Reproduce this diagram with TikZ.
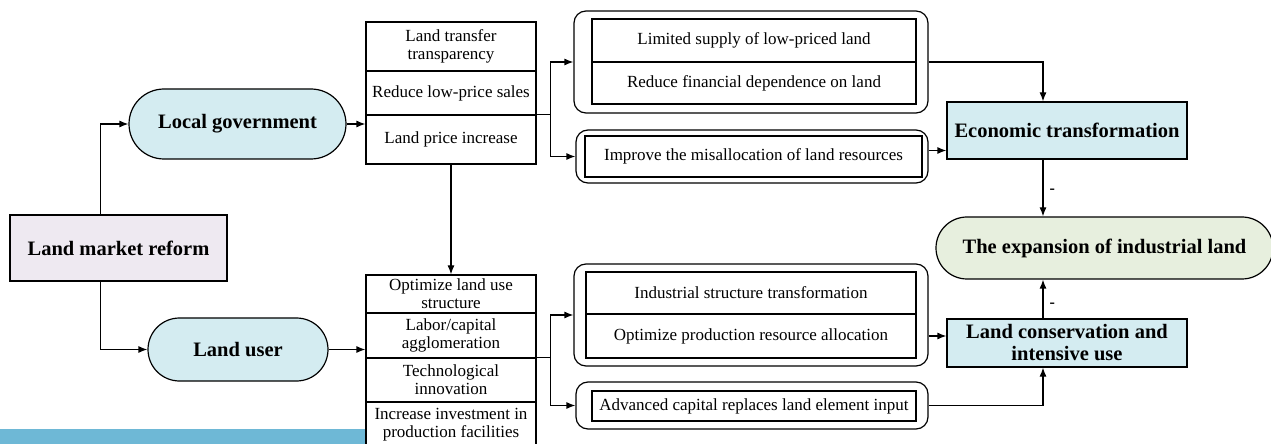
\documentclass[tikz,border=0pt]{standalone}
\usepackage{fontspec}
\setmainfont{Liberation Serif}
\usetikzlibrary{arrows.meta}

\definecolor{actorblue}{RGB}{212,236,241}
\definecolor{reformlilac}{RGB}{238,233,241}
\definecolor{targetgreen}{RGB}{231,239,222}
\definecolor{bandblue}{RGB}{110,184,214}

\begin{document}
\begin{tikzpicture}[x=0.5pt, y=-0.5pt, line width=0.6pt,
    >={Latex[length=4.5pt,width=3.5pt]},
    boldtext/.style={font=\fontsize{10.25}{11}\selectfont\bfseries},
    cell/.style={draw, minimum width=85pt, inner sep=0pt, align=center,
      font=\fontsize{8.5}{9}\selectfont},
    inner/.style={draw, inner sep=0pt, align=center, font=\fontsize{8.5}{9}\selectfont},
    group/.style={draw, rounded corners=6pt, inner sep=0pt},
    outcome/.style={draw, fill=actorblue, inner sep=0pt, align=center, boldtext},
    sign/.style={right, inner sep=3pt, font=\fontsize{8}{8}\selectfont\bfseries}]
  \useasboundingbox (0,0) rectangle (1271,444);
  \fill[bandblue] (0,429) rectangle (365,444);

  % Actors
  \node[draw, fill=reformlilac, minimum width=108.5pt, minimum height=33pt, boldtext]
    (lmr) at (118.5,248) {Land market reform};
  \node[draw, fill=actorblue, rounded corners=17.5pt, minimum width=108.5pt,
    minimum height=35pt, boldtext] (gov) at (237.5,124) {Local government};
  \node[draw, fill=actorblue, rounded corners=15.75pt, minimum width=90pt,
    minimum height=31.5pt, boldtext] (user) at (238,349.5) {Land user};

  % Channels
  \node[cell, minimum height=24.5pt] (g1) at (451,46.5) {Land transfer\\transparency};
  \node[cell, minimum height=22pt] (g2) at (451,93) {Reduce low-price sales};
  \node[cell, minimum height=24.5pt] (g3) at (451,139.5) {Land price increase};
  \node[cell, minimum height=19pt] (u1) at (451,294) {Optimize land use\\structure};
  \node[cell, minimum height=22.5pt] (u2) at (451,335.5) {Labor/capital\\agglomeration};
  \node[cell, minimum height=22pt] (u3) at (451,380) {Technological\\innovation};
  \node[cell, minimum height=22.5pt] (u4) at (451,424.5) {Increase investment in\\production facilities};

  % Mechanisms
  \node[group, minimum width=177pt, minimum height=51pt] (m1) at (751,62) {};
  \node[inner, minimum width=162pt, minimum height=21.5pt] (m1a) at (754,40.5) {Limited supply of low-priced land};
  \node[inner, minimum width=162pt, minimum height=21pt] (m1b) at (754,83) {Reduce financial dependence on land};
  \node[group, minimum width=176pt, minimum height=26.5pt] (m2) at (752,156.5) {};
  \node[inner, minimum width=168.5pt, minimum height=20.5pt] (m2a) at (753.5,156.5) {Improve the misallocation of land resources};
  \node[group, minimum width=177pt, minimum height=51pt] (m3) at (751,315) {};
  \node[inner, minimum width=165pt, minimum height=21pt] (m3a) at (751,293) {Industrial structure transformation};
  \node[inner, minimum width=165pt, minimum height=22pt] (m3b) at (751,336) {Optimize production resource allocation};
  \node[group, minimum width=176pt, minimum height=23.5pt] (m4) at (752,405.5) {};
  \node[inner, minimum width=162pt, minimum height=15pt] (m4a) at (754,406) {Advanced capital replaces land element input};

  % Outcomes
  \node[outcome, minimum width=120pt, minimum height=28.5pt] (econ) at (1067,130.5) {Economic transformation};
  \node[outcome, minimum width=120pt, minimum height=24pt] (cons) at (1067,343) {Land conservation and\\intensive use};
  \node[draw, fill=targetgreen, rounded corners=15.5pt, minimum width=168.5pt,
    minimum height=31pt, boldtext] (exp) at (1104.5,248) {The expansion of industrial land};

  % Connectors
  \draw[->] ([xshift=45.5pt]lmr.north west) |- (gov.west);
  \draw[->] ([xshift=45.5pt]lmr.south west) |- (user.west);
  \draw[->] (gov.east) -- (gov.east -| g3.west);
  \draw[->] (user.east) -- (user.east -| u2.west);
  \draw[->] (g3.south) -- (u1.north);
  \draw (g3.north east) -- ++(7pt,0) coordinate (gsplit);
  \draw[->] (gsplit) |- (m1.west);
  \draw[->] (gsplit) |- (m2.west);
  \draw (u3.north east) -- ++(7pt,0) coordinate (usplit);
  \draw[->] (usplit) |- (m3.west);
  \draw[->] (usplit) |- (m4.west);
  \draw[->] (m1.east) -| ([xshift=-12pt]econ.north);
  \draw[->] ([yshift=3pt]m2.east) -- ([yshift=3pt]m2.east -| econ.west);
  \draw[->] ([yshift=-10.5pt]m3.east) -- ([yshift=-10.5pt]m3.east -| cons.west);
  \draw[->] (m4.east) -| ([xshift=-12pt]cons.south);
  \draw[->] ([xshift=-12pt]econ.south) -- ([xshift=-12pt]econ.south |- exp.north)
    node[sign, pos=0.55] {-};
  \draw[->] ([xshift=-12pt]cons.north) -- ([xshift=-12pt]cons.north |- exp.south)
    node[sign, pos=0.35] {-};
\end{tikzpicture}
\end{document}
